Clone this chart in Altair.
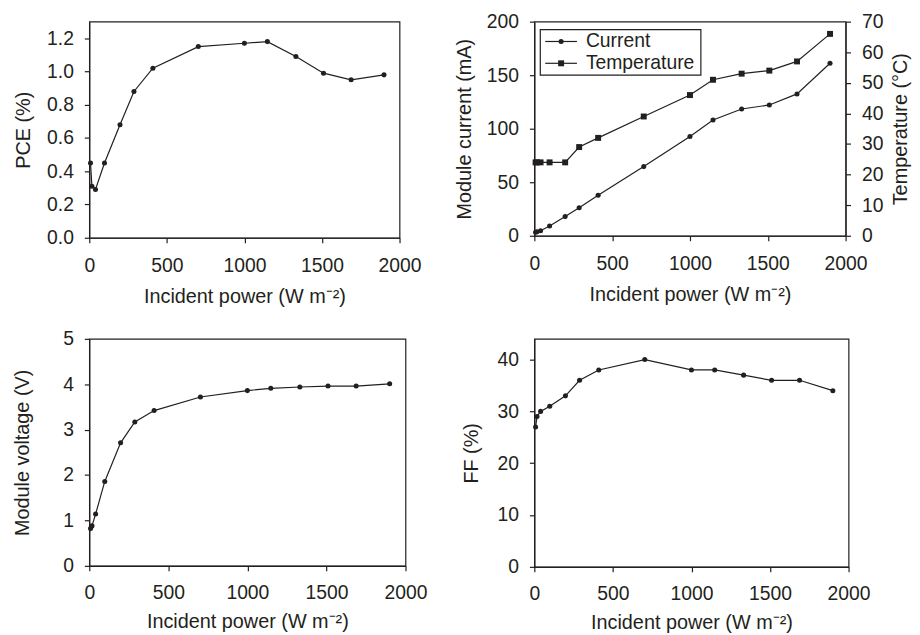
import altair as alt
import pandas as pd

power = [8, 17, 40, 98, 198, 288, 410, 703, 1000, 1148, 1332, 1510, 1688, 1900]
pce = [0.45, 0.31, 0.29, 0.45, 0.68, 0.88, 1.02, 1.15, 1.17, 1.18, 1.09, 0.99, 0.95, 0.98]
current = [3.2, 3.8, 4.7, 9.1, 17.9, 26.1, 37.9, 64.6, 92.8, 108.1, 118.4, 122.2, 132.5, 161.2]
temperature = [24, 24, 24, 24, 24, 29, 32, 39, 46, 51, 53, 54, 57, 66]
voltage = [0.82, 0.88, 1.14, 1.86, 2.71, 3.17, 3.42, 3.72, 3.86, 3.91, 3.94, 3.96, 3.96, 4.01]
ff = [27, 29, 30, 31, 33, 36, 38, 40, 38, 38, 37, 36, 36, 34]
x_ticks = [0, 500, 1000, 1500, 2000]
legend_labels = ["Current", "Temperature"]

df = pd.DataFrame({"power": power, "pce": pce, "current": current,
                   "temp": temperature, "voltage": voltage, "ff": ff})

INK = "#231f20"
FONT = "Liberation Sans"
LFS = 19.5
TFS = 20
XTITLE = "Incident power (W m\u207b\u00b2)"


def xenc(label_pad=14, title_pad=12):
    return alt.X("power:Q", title=XTITLE,
                 scale=alt.Scale(domain=[0, 2000], nice=False),
                 axis=alt.Axis(values=x_ticks, format="d", labelPadding=label_pad,
                               titlePadding=title_pad))


def panel(col, domain, values, fmt, title, w, h, tpad, xe, size=26):
    base = alt.Chart(df)
    y = alt.Y(f"{col}:Q", scale=alt.Scale(domain=domain, nice=False),
              axis=alt.Axis(values=values, format=fmt, title=title,
                            titlePadding=tpad))
    line = base.mark_line(color=INK, strokeWidth=1.2).encode(x=xe, y=y)
    pts = base.mark_point(filled=True, color=INK, opacity=1, size=size,
                          shape="circle").encode(x=xe, y=y)
    return (line + pts).properties(width=w, height=h)


p1 = panel("pce", [0, 1.3], [0, 0.2, 0.4, 0.6, 0.8, 1.0, 1.2], ".1f",
           "PCE (%)", 313, 218, 13, xenc())
p3 = panel("voltage", [0, 5], [0, 1, 2, 3, 4, 5], "d",
           "Module voltage (V)", 319, 229, 30, xenc(13, 10))
p4 = panel("ff", [0, 44], [0, 10, 20, 30, 40], "d", "FF (%)", 317, 230, 16,
           xenc(13, 10))

# panel 2: current (left) & temperature (right)
x2 = xenc()
base2 = alt.Chart(df)
yc = alt.Y("current:Q", scale=alt.Scale(domain=[0, 200], nice=False),
           axis=alt.Axis(values=[0, 50, 100, 150, 200], format="d",
                         title="Module current (mA)", titlePadding=12))
yt = alt.Y("temp:Q", scale=alt.Scale(domain=[0, 70], nice=False),
           axis=alt.Axis(values=[0, 10, 20, 30, 40, 50, 60, 70], format="d",
                         title="Temperature (\u00b0C)", orient="right",
                         titleAngle=270, titleBaseline="top", titlePadding=8))
cur = (base2.mark_line(color=INK, strokeWidth=1.2).encode(x=x2, y=yc)
       + base2.mark_point(filled=True, color=INK, opacity=1, size=26,
                          shape="circle").encode(x=x2, y=yc))
tmp = (base2.mark_line(color=INK, strokeWidth=1.2).encode(x=x2, y=yt)
       + base2.mark_point(filled=True, color=INK, opacity=1, size=36,
                          shape="square").encode(x=x2, y=yt))

# manual legend box (layout only)
one = pd.DataFrame({"k": [0]})
box = alt.Chart(one).mark_rect(fill="white", stroke=INK, strokeWidth=1.2).encode(
    x=alt.value(6), x2=alt.value(168), y=alt.value(8), y2=alt.value(54))
leg_layers = [box]
shapes = ["circle", "square"]
sizes = [26, 36]
for i, lab in enumerate(legend_labels):
    yy = 20 + i * 22
    d = pd.DataFrame({"label": [lab]})
    leg_layers.append(alt.Chart(d).mark_rule(color=INK, strokeWidth=1.2).encode(
        x=alt.value(11), x2=alt.value(43), y=alt.value(yy)))
    leg_layers.append(alt.Chart(d).mark_point(filled=True, color=INK, opacity=1,
                                              size=sizes[i], shape=shapes[i]).encode(
        x=alt.value(27), y=alt.value(yy)))
    leg_layers.append(alt.Chart(d).mark_text(align="left", baseline="middle",
                                             font=FONT, fontSize=LFS, color=INK).encode(
        x=alt.value(52), y=alt.value(yy), text="label:N"))

p2 = alt.layer(cur, tmp, *leg_layers).resolve_scale(y="independent").properties(
    width=314, height=216)

chart = alt.concat(p1, p2, p3, p4, columns=2, bounds="flush", align="each",
                   spacing=alt.RowColnumber(row=102, column=130)).properties(
    padding={"left": 4, "top": 0, "right": 0, "bottom": 0}
).configure_view(stroke=INK, strokeWidth=1.2).configure_axis(
    grid=False, domainColor=INK, tickColor=INK, tickSize=5, domainWidth=1.2,
    tickWidth=1.2, labelFont=FONT, titleFont=FONT, labelFontSize=LFS,
    titleFontSize=TFS, labelColor=INK, titleColor=INK, titleFontWeight="normal",
    labelFlush=False
).configure_axisY(labelPadding=11)

chart.save("out.html", embed_options={"renderer": "svg", "actions": False})
